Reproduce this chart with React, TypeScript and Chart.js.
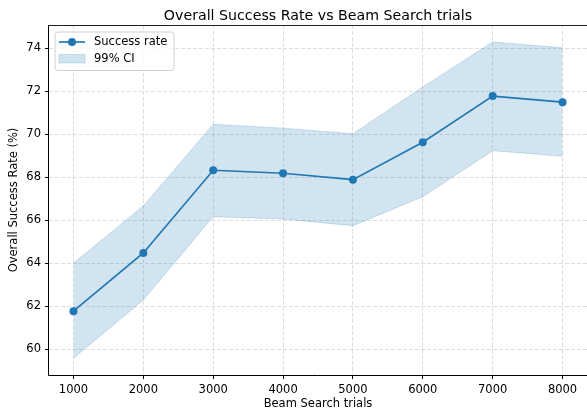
import React, { useEffect, useRef } from 'react';
import { Chart, registerables } from 'chart.js';

Chart.register(...registerables);

const TRIALS = [1000, 2000, 3000, 4000, 5000, 6000, 7000, 8000];
const SUCCESS = [61.76, 64.47, 68.32, 68.18, 67.88, 69.62, 71.77, 71.49];
const CI_LOW = [59.57, 62.28, 66.16, 66.05, 65.74, 67.09, 69.23, 68.97];
const CI_HIGH = [63.99, 66.66, 70.46, 70.28, 70.02, 72.2, 74.29, 74.02];
const X_TICKS = [1000, 2000, 3000, 4000, 5000, 6000, 7000, 8000];
const Y_TICKS = [60, 62, 64, 66, 68, 70, 72, 74];

const TITLE = 'Overall Success Rate vs Beam Search trials';
const X_LABEL = 'Beam Search trials';
const Y_LABEL = 'Overall Success Rate (%)';
const SERIES_LABEL = 'Success rate';
const BAND_LABEL = '99% CI';

const FONT = 'DejaVu Sans';
const BLUE = '#1f77b4';
const BAND = 'rgba(31,119,180,0.2)';

const decorPlugin = {
  id: 'decor',
  afterDraw(chart: any) {
    const { ctx, chartArea } = chart;
    ctx.save();
    // spines
    ctx.strokeStyle = '#222';
    ctx.lineWidth = 1;
    ctx.setLineDash([]);
    ctx.beginPath();
    ctx.moveTo(chartArea.left, chartArea.top + 0.5);
    ctx.lineTo(chartArea.right, chartArea.top + 0.5);
    ctx.stroke();
    ctx.strokeStyle = '#000';
    ctx.beginPath();
    ctx.moveTo(chartArea.left - 0.5, chartArea.top);
    ctx.lineTo(chartArea.left - 0.5, chartArea.bottom + 0.5);
    ctx.lineTo(chartArea.right, chartArea.bottom + 0.5);
    ctx.stroke();
    // title
    ctx.fillStyle = '#000';
    ctx.font = `14.2px "${FONT}"`;
    ctx.textAlign = 'center';
    ctx.textBaseline = 'alphabetic';
    ctx.fillText(TITLE, (chartArea.left + chartArea.right) / 2, 20);

    // legend
    const lx = chartArea.left + 6;
    const ly = chartArea.top + 7;
    const lw = 119;
    const lh = 38.5;
    const r = 3;
    ctx.beginPath();
    ctx.moveTo(lx + r, ly);
    ctx.lineTo(lx + lw - r, ly);
    ctx.arcTo(lx + lw, ly, lx + lw, ly + r, r);
    ctx.lineTo(lx + lw, ly + lh - r);
    ctx.arcTo(lx + lw, ly + lh, lx + lw - r, ly + lh, r);
    ctx.lineTo(lx + r, ly + lh);
    ctx.arcTo(lx, ly + lh, lx, ly + lh - r, r);
    ctx.lineTo(lx, ly + r);
    ctx.arcTo(lx, ly, lx + r, ly, r);
    ctx.closePath();
    ctx.fillStyle = 'rgba(255,255,255,0.8)';
    ctx.fill();
    ctx.strokeStyle = '#d0d0d0';
    ctx.lineWidth = 1;
    ctx.stroke();

    // entry 1
    const y1 = ly + 10;
    ctx.strokeStyle = BLUE;
    ctx.lineWidth = 1.7;
    ctx.beginPath();
    ctx.moveTo(lx + 4, y1);
    ctx.lineTo(lx + 30, y1);
    ctx.stroke();
    ctx.fillStyle = BLUE;
    ctx.beginPath();
    ctx.arc(lx + 17, y1, 4, 0, Math.PI * 2);
    ctx.fill();
    ctx.fillStyle = '#000';
    ctx.font = `11.5px "${FONT}"`;
    ctx.textAlign = 'left';
    ctx.textBaseline = 'middle';
    ctx.fillText(SERIES_LABEL, lx + 39, y1 + 0.5);

    // entry 2
    const y2 = ly + 27;
    ctx.fillStyle = BAND;
    ctx.fillRect(lx + 4, y2 - 4.5, 26, 8.5);
    ctx.strokeStyle = BAND;
    ctx.lineWidth = 1;
    ctx.strokeRect(lx + 4, y2 - 4.5, 26, 8.5);
    ctx.fillStyle = '#000';
    ctx.fillText(BAND_LABEL, lx + 39, y2 + 0.5);
    ctx.restore();
  },
};

export default function App() {
  const ref = useRef<HTMLCanvasElement | null>(null);

  useEffect(() => {
    if (!ref.current) return;
    const pts = (vals: number[]) => TRIALS.map((x, i) => ({ x, y: vals[i] }));
    const gridOpts = {
      color: 'rgba(0,0,0,0.13)',
      tickBorderDash: [],
      tickColor: '#000',
      tickLength: 4,
      tickWidth: 1,
      lineWidth: 1,
    };
    const borderOpts = { display: false, color: '#000', width: 1, dash: [4, 2] };
    const chart = new Chart(ref.current, {
      type: 'line',
      data: {
        datasets: [
          {
            label: SERIES_LABEL,
            data: pts(SUCCESS),
            borderColor: BLUE,
            backgroundColor: BLUE,
            borderWidth: 1.7,
            pointRadius: 4,
            pointBorderWidth: 0,
            pointBackgroundColor: BLUE,
            fill: false,
            tension: 0,
            order: 0,
          },
          {
            label: BAND_LABEL,
            data: pts(CI_HIGH),
            borderColor: BAND,
            backgroundColor: BAND,
            borderWidth: 1,
            pointRadius: 0,
            fill: '+1',
            tension: 0,
            order: 1,
          },
          {
            label: 'low',
            data: pts(CI_LOW),
            borderColor: BAND,
            backgroundColor: BAND,
            borderWidth: 1,
            pointRadius: 0,
            fill: false,
            tension: 0,
            order: 2,
          },
        ],
      },
      options: {
        animation: false,
        responsive: true,
        maintainAspectRatio: false,
        layout: { autoPadding: false, padding: { top: 25, right: 0, left: 0, bottom: 0 } },
        plugins: {
          legend: { display: false },
          title: { display: false },
          tooltip: { enabled: false },
        },
        scales: {
          x: {
            type: 'linear',
            min: 650,
            max: 8350,
            afterBuildTicks: (s: any) => {
              s.ticks = X_TICKS.map((v) => ({ value: v }));
            },
            afterFit: (s: any) => {
              s.height = 36;
              s.paddingLeft = 0;
              s.paddingRight = 0;
            },
            ticks: {
              color: '#000',
              font: { family: FONT, size: 11.5 },
              padding: 4,
              maxRotation: 0,
              autoSkip: false,
              callback: (v: any) => String(v),
            },
            grid: gridOpts,
            border: borderOpts,
            title: {
              display: true,
              text: X_LABEL,
              color: '#000',
              font: { family: FONT, size: 11.5 },
              padding: { top: 0, bottom: 0 },
            },
          },
          y: {
            type: 'linear',
            min: 58.79,
            max: 75.08,
            afterBuildTicks: (s: any) => {
              s.ticks = Y_TICKS.map((v) => ({ value: v }));
            },
            afterFit: (s: any) => {
              s.width = 49;
              s.paddingTop = 0;
              s.paddingBottom = 0;
            },
            ticks: {
              color: '#000',
              font: { family: FONT, size: 11.5 },
              padding: 4,
              autoSkip: false,
              callback: (v: any) => String(v),
            },
            grid: gridOpts,
            border: borderOpts,
            title: {
              display: true,
              text: Y_LABEL,
              color: '#000',
              font: { family: FONT, size: 11.5 },
              padding: { top: 7, bottom: 0 },
            },
          },
        },
      },
      plugins: [decorPlugin],
    } as any);
    return () => chart.destroy();
  }, []);

  return (
    <div style={{ position: 'absolute', left: 0, top: 0, width: 587, height: 411, background: '#fff' }}>
      <canvas ref={ref} />
    </div>
  );
}
